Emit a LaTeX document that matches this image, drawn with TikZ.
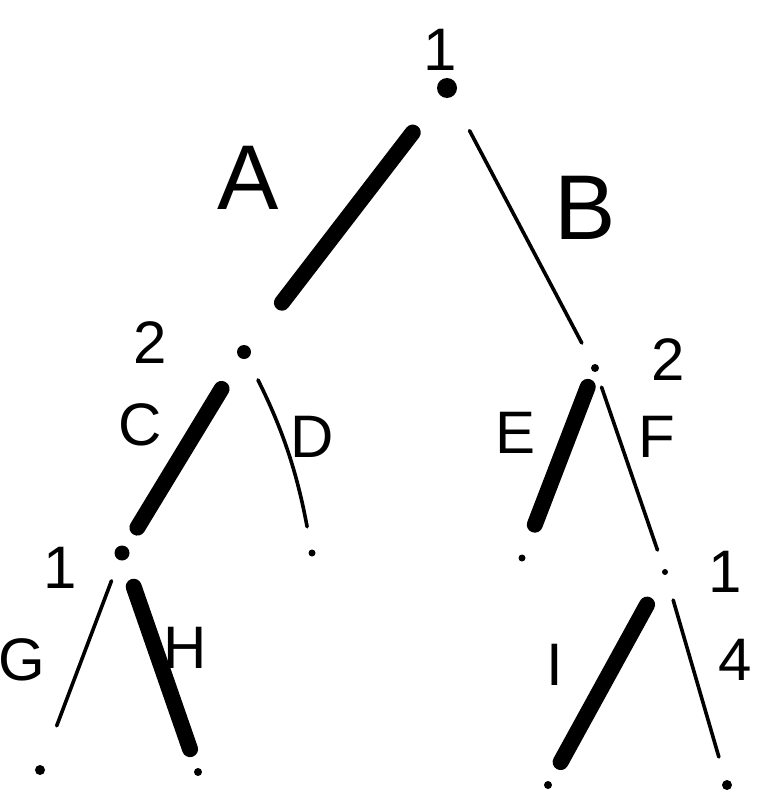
\documentclass[tikz,border=0pt]{standalone}
\usepackage{fontspec}
\setmainfont{Liberation Sans}
\begin{document}
\begin{tikzpicture}[x=1pt,y=-1pt,
  dot/.style={circle,fill=black,inner sep=0pt,minimum size=#1},
  dot/.default=4pt,
  thin/.style={line width=3.6pt,line cap=round},
  thick/.style={line width=16pt,line cap=round},
  lbl/.style={font=\fontsize{60}{60}\selectfont,inner sep=0pt},
  big/.style={font=\fontsize{92}{92}\selectfont,inner sep=0pt}]
\useasboundingbox (0,0) rectangle (757,800);
% nodes
\node[dot=20pt] (r) at (447,88) {};
\node[dot=14pt] (L) at (244,352) {};
\node[dot=8pt] (R) at (595,368) {};
\node[dot=15pt] (LL) at (122,553) {};
\node[dot=7pt] (LR) at (312,553) {};
\node[dot=7pt] (RL) at (522,558) {};
\node[dot=6pt] (RR) at (665,572) {};
\node[dot=10pt] (g) at (40,770) {};
\node[dot=8pt] (h) at (198,772) {};
\node[dot=8pt] (i) at (548,785) {};
\node[dot=10pt] (j) at (727,785) {};
% edges
\draw[thick,shorten <=46pt,shorten >=55pt] (r) -- (L);
\draw[thin,shorten <=38pt,shorten >=24pt] (r) -- (R);
\draw[thick,shorten <=36pt,shorten >=22pt] (L) -- (LL);
\draw[thin,shorten <=24pt,shorten >=23pt] (L) to[bend left=8] (LR);
\draw[thick,shorten <=16pt,shorten >=32pt] (R) -- (RL);
\draw[thin,shorten <=16pt,shorten >=20pt] (R) -- (RR);
\draw[thin,shorten <=22pt,shorten >=42pt] (LL) -- (g);
\draw[thick,shorten <=28pt,shorten >=20pt] (LL) -- (h);
\draw[thick,shorten <=34pt,shorten >=22pt] (RR) -- (i);
\draw[thin,shorten <=26pt,shorten >=24pt] (RR) -- (j);
% labels
\node[lbl] (p1) at (440,50) {1};
\node[big] (la) at (248,178) {A};
\node[big] (lb) at (585,208) {B};
\node[lbl] (p2l) at (150,343) {2};
\node[lbl] (p2r) at (668,360) {2};
\node[lbl] (lc) at (140,425) {C};
\node[lbl] (ld) at (312,437) {D};
\node[lbl] (le) at (516,433) {E};
\node[lbl] (lf) at (657,437) {F};
\node[lbl] (p1l) at (60,568) {1};
\node[lbl] (p1r) at (725,572) {1};
\node[lbl] (lg) at (22,660) {G};
\node[lbl] (lh) at (185,648) {H};
\node[lbl] (li) at (555,665) {I};
\node[lbl] (l4) at (735,660) {4};
\end{tikzpicture}
\end{document}
